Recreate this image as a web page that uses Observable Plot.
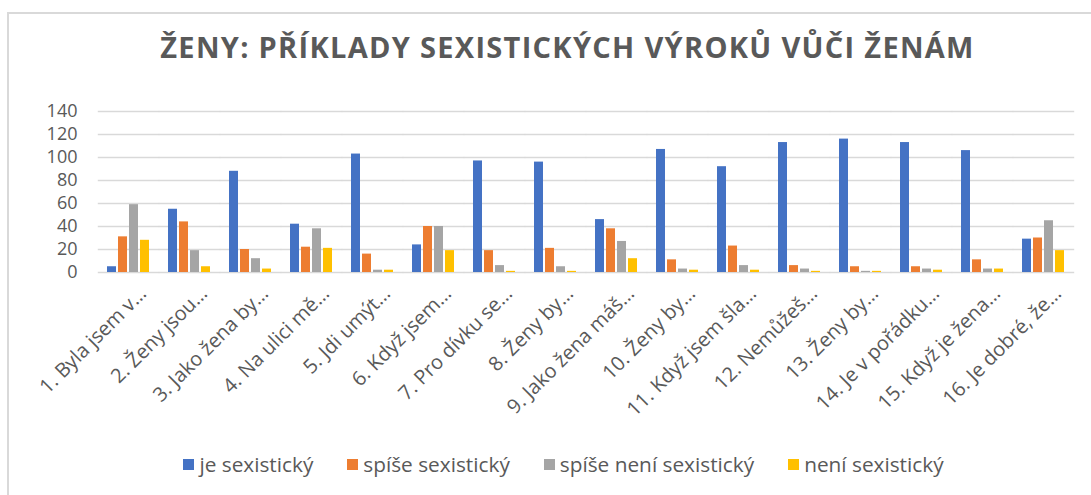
<!DOCTYPE html>
<html>
<head>
<meta charset="utf-8">
<script src="https://cdn.jsdelivr.net/npm/d3@7"></script>
<script src="https://cdn.jsdelivr.net/npm/@observablehq/plot@0.6"></script>
<style>
  html, body { margin: 0; padding: 0; background: #fff; overflow: hidden; }
  #wrap { position: relative; width: 1091px; height: 495px; overflow: hidden; font-family: "Open Sans", sans-serif; }
  #border { position: absolute; left: 7px; top: 12px; width: 1200px; height: 600px; border-left: 2px solid #d9d9d9; border-top: 2px solid #d9d9d9; box-sizing: border-box; }
  #title { position: absolute; left: 22px; width: 1091px; top: 29px; text-align: center; font-family: "Open Sans", sans-serif; font-weight: 700; font-size: 29px; color: #595959; line-height: 36px; letter-spacing: 1.3px; }
  #chart { position: absolute; left: 0; top: 90px; }
  #legend { position: absolute; left: 18px; width: 1091px; top: 450px; display: flex; justify-content: center; gap: 34px; font-family: "Open Sans", sans-serif; font-size: 20.8px; color: #595959; }
  .item { display: flex; align-items: center; gap: 5px; }
  .sw { width: 11px; height: 11px; display: inline-block; }
</style>
</head>
<body>
<div id="wrap">
  <div id="border"></div>
  <div id="title">ŽENY: PŘÍKLADY SEXISTICKÝCH VÝROKŮ VŮČI ŽENÁM</div>
  <div id="chart"></div>
  <div id="legend"></div>
</div>
<script>
const categories = [
  "1. Byla jsem v…", "2. Ženy jsou…", "3. Jako žena by…", "4. Na ulici mě…",
  "5. Jdi umýt…", "6. Když jsem…", "7. Pro dívku se…", "8. Ženy by…",
  "9. Jako žena máš…", "10. Ženy by…", "11. Když jsem šla…", "12. Nemůžeš…",
  "13. Ženy by…", "14. Je v pořádku…", "15. Když je žena…", "16. Je dobré, že…"
];
const series = ["je sexistický", "spíše sexistický", "spíše není sexistický", "není sexistický"];
const colors = ["#4472C4", "#ED7D31", "#A5A5A5", "#FFC000"];
const jeSexisticky =        [5, 55, 88, 42, 103, 24, 97, 96, 46, 107, 92, 113, 116, 113, 106, 29];
const spiseSexisticky =     [31, 44, 20, 22, 16, 40, 19, 21, 38, 11, 23, 6, 5, 5, 11, 30];
const spiseNeniSexisticky = [59, 19, 12, 38, 2, 40, 6, 5, 27, 3, 6, 3, 1, 3, 3, 45];
const neniSexisticky =      [28, 5, 3, 21, 2, 19, 1, 1, 12, 2, 2, 1, 1, 2, 3, 19];
const yTicks = [0, 20, 40, 60, 80, 100, 120, 140];

const valuesBySeries = [jeSexisticky, spiseSexisticky, spiseNeniSexisticky, neniSexisticky];
const data = [];
categories.forEach((c, i) => {
  series.forEach((s, j) => data.push({category: c, series: s, value: valuesBySeries[j][i]}));
});

const gapExtend = 9.2;

const plot = Plot.plot({
  width: 1091,
  height: 350,
  marginLeft: 97,
  marginRight: 17,
  marginTop: 21,
  marginBottom: 168,
  style: {fontFamily: "Open Sans, sans-serif", background: "transparent", overflow: "visible"},
  fx: {domain: categories, paddingInner: 0.3, paddingOuter: 0.15, label: null},
  x: {domain: series, paddingInner: 0.18, paddingOuter: 0, axis: null},
  y: {domain: [0, 140], ticks: yTicks, label: null},
  color: {domain: series, range: colors},
  marks: [
    Plot.ruleY(yTicks, {stroke: "#d9d9d9", strokeWidth: 1.5, insetLeft: -gapExtend, insetRight: -gapExtend}),
    Plot.barY(data, {fx: "category", x: "series", y: "value", fill: "series"}),
    Plot.axisY({ticks: yTicks, tickSize: 0, dx: -21, fontSize: 18, fill: "#595959", label: null}),
    Plot.axisFx({anchor: "bottom", tickRotate: -45, tickSize: 0, dx: 14, dy: 6, fontSize: 20, fill: "#595959", label: null})
  ]
});
document.getElementById("chart").appendChild(plot);

const legend = document.getElementById("legend");
series.forEach((s, j) => {
  const item = document.createElement("div");
  item.className = "item";
  const sw = document.createElement("span");
  sw.className = "sw";
  sw.style.background = colors[j];
  const t = document.createElement("span");
  t.textContent = s;
  item.appendChild(sw);
  item.appendChild(t);
  legend.appendChild(item);
});
</script>
</body>
</html>
